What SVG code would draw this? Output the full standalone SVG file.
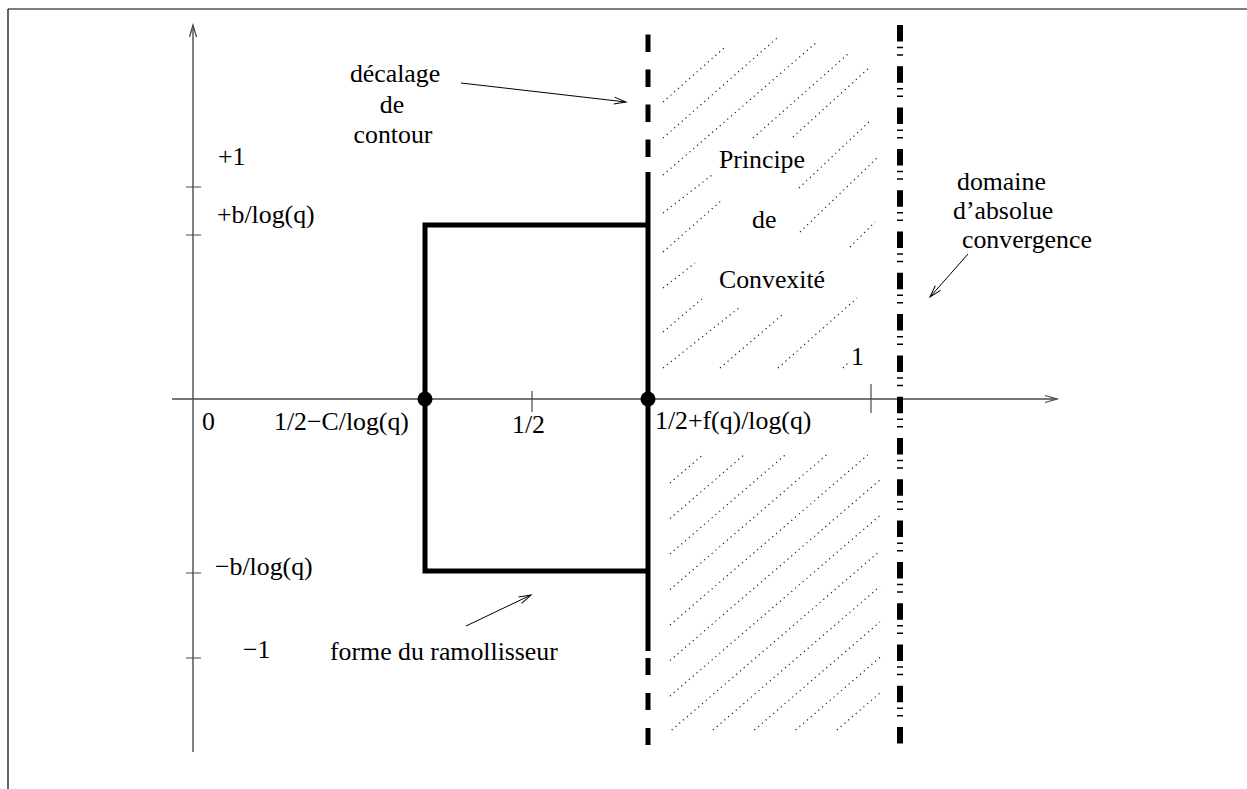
<svg xmlns="http://www.w3.org/2000/svg" width="1247" height="789" viewBox="0 0 1247 789">
<style>
.t { font-family: "Liberation Serif", "Times New Roman", serif; font-size: 25.8px; fill: #000; }
.axis { stroke: #4a4a4a; stroke-width: 1.4; fill: none; }
.tick { stroke: #4a4a4a; stroke-width: 1.2; fill: none; }
.thick { stroke: #000; stroke-width: 5; fill: none; }
.hatch { stroke: #1e1e1e; stroke-width: 1.2; stroke-dasharray: 1.2 3.8; fill: none; }
.arr { stroke: #000; stroke-width: 1; fill: none; }
</style>
<defs>
<marker id="open" markerUnits="userSpaceOnUse" markerWidth="14" markerHeight="10" refX="12" refY="4" orient="auto" overflow="visible">
<path d="M0,0.5 L12,4 L0,7.5" fill="none" stroke="#000" stroke-width="1"/>
</marker>
<marker id="openAx" markerUnits="userSpaceOnUse" markerWidth="14" markerHeight="10" refX="12" refY="4" orient="auto" overflow="visible">
<path d="M0,0.5 L12,4 L0,7.5" fill="none" stroke="#4a4a4a" stroke-width="1.3"/>
</marker>
</defs>
<rect width="1247" height="789" fill="#fff"/>

<g id="frame" stroke="#000" stroke-width="1.2" fill="none">
<path d="M8,9 L1247,9 M8,9 L8,789"/>
</g>

<g id="hatching" class="hatch">
<path d="M663,102 L724,48 M663,138 L777,38 M663,175 L817,42 M663,213 L712,175 M753,138 L848,54 M793,137 L870,67 M799,188 L870,121 M800,232 L878,157 M850,247 L875,222 M663,252 L722,200 M663,288 L695,263 M663,332 L703,298 M663,368 L740,307 M720,368 L782,315 M778,368 L857,298 M843,368 L848,363"/>
<path d="M670,483 L702.6,455 M670,518.5 L743.8,455 M670,554 L785.1,455 M670,589.5 L826.4,455 M670,625 L867.7,455 M670,660.5 L880,479.9 M670,696 L880,515.4 M671.7,730 L880,550.9 M713,730 L880,586.4 M754.3,730 L880,621.9 M795.6,730 L880,657.4 M836.9,730 L880,692.9"/>
</g>

<g id="axes">
<path class="axis" d="M193,752 L193,25" marker-end="url(#openAx)"/>
<path class="axis" d="M172,399 L1057,399" marker-end="url(#openAx)"/>
<path class="tick" d="M186,187 L201,187 M186,235 L201,235 M186,573 L201,573 M186,658 L201,658 M532,391 L532,412 M871,384 L871,413"/>
</g>

<g id="convergence-line">
<path d="M900,25 L900,745" stroke="#000" stroke-width="6" fill="none" stroke-dasharray="16.5 5.3 1.5 6 1.5 10.5"/>
</g>

<g id="contour-line">
<path class="thick" d="M648,34.5 L648,172" stroke-width="6" stroke-dasharray="17.5 17.5"/>
<path class="thick" d="M648,658 L648,745" stroke-width="6" stroke-dasharray="17 18"/>
<path class="thick" d="M648,172 L648,651" stroke-width="5"/>
</g>

<g id="smoother-rectangle">
<path class="thick" d="M648,225 L425,225 L425,571 L648,571"/>
<circle cx="425" cy="399" r="7.5" fill="#000"/>
<circle cx="648" cy="399" r="7.5" fill="#000"/>
</g>

<g id="labels">
<text class="t" x="395" y="82" text-anchor="middle">décalage</text>
<text class="t" x="392" y="113" text-anchor="middle">de</text>
<text class="t" x="393" y="143" text-anchor="middle">contour</text>
<text class="t" x="218" y="165">+1</text>
<text class="t" x="217" y="223">+b/log(q)</text>
<text class="t" x="215" y="575">−b/log(q)</text>
<text class="t" x="243" y="658">−1</text>
<text class="t" x="202" y="430">0</text>
<text class="t" x="274" y="430">1/2−C/log(q)</text>
<text class="t" x="512" y="433">1/2</text>
<text class="t" x="655" y="429">1/2+f(q)/log(q)</text>
<text class="t" x="719" y="168">Principe</text>
<text class="t" x="752" y="228">de</text>
<text class="t" x="719" y="288">Convexité</text>
<text class="t" x="851" y="365">1</text>
<text class="t" x="957" y="190">domaine</text>
<text class="t" x="953" y="219">d’absolue</text>
<text class="t" x="962" y="248">convergence</text>
<text class="t" x="330" y="660">forme du ramollisseur</text>
</g>

<g id="connectors">
<path class="arr" d="M461,83 L626,102" marker-end="url(#open)"/>
<path class="arr" d="M968,254 L930,297" marker-end="url(#open)"/>
<path class="arr" d="M466,626 L531,595" marker-end="url(#open)"/>
</g>
</svg>
